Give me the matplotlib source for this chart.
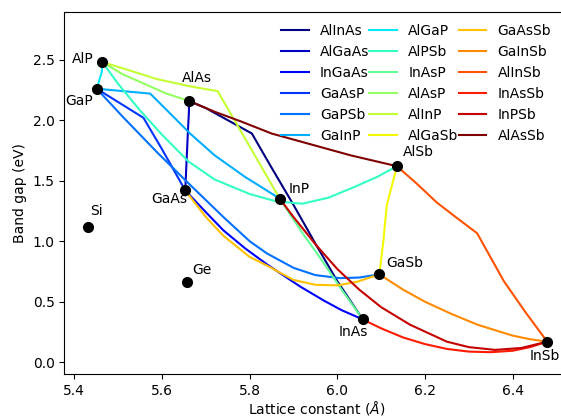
import matplotlib
matplotlib.use("Agg")
import matplotlib.pyplot as plt
import numpy as np

# binary compounds: lattice constant (A) and band gap (eV)
binary_names = ["Si", "Ge", "GaAs", "AlAs", "AlP", "GaP", "InP", "InAs", "GaSb", "AlSb", "InSb"]
binary_a = [5.431, 5.658, 5.653, 5.661, 5.464, 5.451, 5.869, 6.058, 6.096, 6.136, 6.479]
binary_eg = [1.12, 0.66, 1.42, 2.16, 2.48, 2.26, 1.35, 0.354, 0.726, 1.62, 0.17]

# ternary alloys, points
alinas_a = [5.661, 5.70, 5.75, 5.805, 5.848, 5.90, 5.95, 6.00, 6.058]
alinas_eg = [2.16, 2.10, 2.00, 1.89, 1.62, 1.30, 0.98, 0.67, 0.354]
algaas_a = [5.661, 5.6615, 5.659, 5.656, 5.653]
algaas_eg = [2.16, 2.08, 1.90, 1.66, 1.42]
ingaas_a = [5.653, 5.70, 5.74, 5.79, 5.839, 5.8925, 5.9155, 5.969, 6.01, 6.058]
ingaas_eg = [1.42, 1.24, 1.09, 0.94, 0.81, 0.68, 0.625, 0.51, 0.43, 0.354]
gaasp_a = [5.451, 5.5576, 5.60, 5.653]
gaasp_eg = [2.26, 2.02, 1.76, 1.42]
gapsb_a = [5.451, 5.51, 5.59, 5.66, 5.74, 5.80, 5.839, 5.90, 5.95, 6.006, 6.05, 6.096]
gapsb_eg = [2.26, 2.03, 1.73, 1.48, 1.20, 1.00, 0.90, 0.78, 0.72, 0.695, 0.70, 0.726]
gainp_a = [5.451, 5.573, 5.62, 5.664, 5.72, 5.79, 5.83, 5.869]
gainp_eg = [2.26, 2.22, 2.05, 1.89, 1.71, 1.53, 1.44, 1.35]
algap_a = [5.464, 5.4626, 5.451]
algap_eg = [2.48, 2.40, 2.26]
alpsb_a = [5.464, 5.50, 5.55, 5.60, 5.66, 5.72, 5.80, 5.86, 5.92, 5.98, 6.04, 6.09, 6.136]
alpsb_eg = [2.48, 2.30, 2.08, 1.88, 1.66, 1.51, 1.39, 1.33, 1.31, 1.36, 1.45, 1.53, 1.62]
inasp_a = [5.869, 5.92, 5.965, 6.01, 6.058]
inasp_eg = [1.35, 1.07, 0.84, 0.60, 0.354]
alasp_a = [5.464, 5.51, 5.56, 5.61, 5.661]
alasp_eg = [2.48, 2.38, 2.30, 2.22, 2.16]
alinp_a = [5.464, 5.527, 5.588, 5.664, 5.727, 5.869]
alinp_eg = [2.48, 2.41, 2.34, 2.28, 2.24, 1.35]
algasb_a = [6.136, 6.113, 6.105, 6.096]
algasb_eg = [1.62, 1.30, 1.00, 0.726]
gaassb_a = [5.653, 5.70, 5.74, 5.80, 5.839, 5.90, 5.95, 6.00, 6.045, 6.096]
gaassb_eg = [1.42, 1.20, 1.045, 0.87, 0.80, 0.68, 0.64, 0.635, 0.665, 0.726]
gainsb_a = [6.096, 6.15, 6.20, 6.26, 6.32, 6.40, 6.44, 6.479]
gainsb_eg = [0.726, 0.60, 0.50, 0.40, 0.31, 0.22, 0.19, 0.17]
alinsb_a = [6.136, 6.18, 6.227, 6.27, 6.319, 6.38, 6.43, 6.479]
alinsb_eg = [1.62, 1.48, 1.32, 1.20, 1.066, 0.67, 0.41, 0.17]
inassb_a = [6.058, 6.10, 6.15, 6.20, 6.25, 6.30, 6.35, 6.40, 6.44, 6.479]
inassb_eg = [0.354, 0.28, 0.205, 0.15, 0.11, 0.088, 0.083, 0.095, 0.125, 0.17]
inpsb_a = [5.869, 5.90, 5.95, 6.00, 6.05, 6.10, 6.166, 6.25, 6.30, 6.36, 6.42, 6.479]
inpsb_eg = [1.35, 1.20, 0.975, 0.77, 0.60, 0.455, 0.31, 0.17, 0.125, 0.102, 0.118, 0.17]
alassb_a = [5.661, 5.72, 5.78, 5.85, 5.93, 6.03, 6.136]
alassb_eg = [2.16, 2.07, 1.99, 1.89, 1.81, 1.71, 1.62]

alloys = [
    ("AlInAs", alinas_a, alinas_eg),
    ("AlGaAs", algaas_a, algaas_eg),
    ("InGaAs", ingaas_a, ingaas_eg),
    ("GaAsP", gaasp_a, gaasp_eg),
    ("GaPSb", gapsb_a, gapsb_eg),
    ("GaInP", gainp_a, gainp_eg),
    ("AlGaP", algap_a, algap_eg),
    ("AlPSb", alpsb_a, alpsb_eg),
    ("InAsP", inasp_a, inasp_eg),
    ("AlAsP", alasp_a, alasp_eg),
    ("AlInP", alinp_a, alinp_eg),
    ("AlGaSb", algasb_a, algasb_eg),
    ("GaAsSb", gaassb_a, gaassb_eg),
    ("GaInSb", gainsb_a, gainsb_eg),
    ("AlInSb", alinsb_a, alinsb_eg),
    ("InAsSb", inassb_a, inassb_eg),
    ("InPSb", inpsb_a, inpsb_eg),
    ("AlAsSb", alassb_a, alassb_eg),
]

# label offsets in points and alignment
label_pos = {
    "Si": (1.5, 11, "left"),
    "Ge": (3.5, 9, "left"),
    "GaAs": (1.5, -6.5, "right"),
    "AlAs": (6, 16.5, "center"),
    "AlP": (-6, 2, "right"),
    "GaP": (-3, -9, "right"),
    "InP": (6.5, 7, "left"),
    "InAs": (-7, -9, "center"),
    "GaSb": (5, 8.5, "left"),
    "AlSb": (4.5, 10, "left"),
    "InSb": (-1.5, -10, "center"),
}


def plot_gaps():
    fig = plt.figure(figsize=(5.61, 4.16), dpi=100)
    ax = fig.add_axes([0.1146, 0.101, 0.9015, 0.871])

    colors = plt.cm.jet(np.linspace(0, 1, len(alloys)))
    for (name, a, eg), c in zip(alloys, colors):
        ax.plot(a, eg, color=c, lw=1.5, label=name)

    ax.plot(binary_a, binary_eg, "ko", ms=7, zorder=5)
    for name, a, eg in zip(binary_names, binary_a, binary_eg):
        dx, dy, ha = label_pos[name]
        ax.annotate(name, (a, eg), xytext=(dx, dy), textcoords="offset points",
                    ha=ha, va="center", fontsize=10)

    ax.set_xlim(5.377, 6.531)
    ax.set_ylim(-0.097, 2.897)
    ax.set_xticks([5.4, 5.6, 5.8, 6.0, 6.2, 6.4])
    ax.set_xlabel(r"Lattice constant ($\AA$)", labelpad=1)
    ax.set_ylabel("Band gap (eV)")
    ax.legend(ncol=3, loc="upper right", frameon=False, columnspacing=0.0,
              bbox_to_anchor=(0.9735, 0.9807), borderaxespad=0)

    fig.savefig("out.png", dpi=100)


def main():
    plot_gaps()


if __name__ == "__main__":
    main()
